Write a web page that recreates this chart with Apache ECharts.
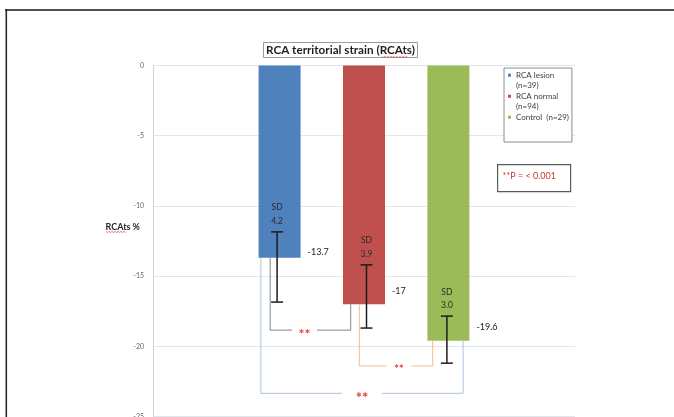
<!DOCTYPE html>
<html>
<head>
<meta charset="utf-8">
<script src="https://cdn.jsdelivr.net/npm/echarts@6/dist/echarts.min.js"></script>
<style>
html,body{margin:0;padding:0;background:#fff;}
#c{width:674px;height:417px;}
</style>
</head>
<body>
<div id="c"></div>
<script>
// ---- data ----
const categories = ['RCA lesion', 'RCA normal', 'Control'];
const groupN = [39, 94, 29];
const meanValues = [-13.7, -17, -19.6];
const sdText = ['4.2', '3.9', '3.0'];
const errLow = [-16.85, -18.7, -21.2];
const errHigh = [-11.85, -14.2, -17.85];
const bracketFrom = [0, 1, 0];
const bracketTo = [1, 2, 2];
const bracketLevel = [-18.85, -21.4, -23.35];
const yMin = -25, yMax = 0, yInterval = 5;
const yName = 'RCAts %';
const titleText = 'RCA territorial strain (RCAts)';
const pText = '**P = < 0.001';

// ---- styles ----
const FONT = 'Lato';
const colors = ['#4f81bd', '#c0504d', '#9bbb59'];
const ERR_DX = [-2.5, 2.5, -1.5];
const LABEL_DY = [-5.5, -13.3, -13.5];
const BR_COLORS = ['#858585', '#f4b98a', '#a9c4dc'];
const BR_DX = [[-9.4, -13.3], [-4.7, -15.7], [-18.7, 14.7]];
const BR_GAP = [25, 25, 40];
const BR_SHIFT = [-6, 3, 0];
const BR_STAR = [14, 11, 15];

const xCats = [''].concat(categories, ['']);
const chart = echarts.init(document.getElementById('c'), null, {renderer: 'canvas'});

const barSeries = categories.map((name, i) => ({
  name: name,
  type: 'bar',
  stack: 'all',
  barWidth: 42,
  itemStyle: {color: colors[i]},
  data: xCats.map((c, j) => (j === i + 1 ? meanValues[i] : '-')),
  z: 2
}));

const errData = categories.map((c, i) => [i + 1, errLow[i], errHigh[i], meanValues[i]]);
const brData = bracketFrom.map((f, k) => [f + 1, bracketTo[k] + 1, bracketLevel[k], meanValues[f], meanValues[bracketTo[k]]]);

const iconTwo = 'path://M0,3.75h3v3h-3z M0,0h0.01 M0,21h0.01';

function squiggle(x0, x1, y) {
  const pts = [];
  let up = true;
  for (let x = x0; x <= x1; x += 1.5) { pts.push([x, up ? y - 0.8 : y + 0.8]); up = !up; }
  return {type: 'polyline', shape: {points: pts}, style: {stroke: '#e05a5a', lineWidth: 0.8, fill: null}, z: 100};
}

const option = {
  animation: false,
  backgroundColor: '#ffffff',
  title: {
    text: titleText,
    left: 263, top: 42,
    padding: [2, 3, 2, 3],
    borderWidth: 1, borderColor: '#9a9a9a',
    textStyle: {fontFamily: FONT, fontWeight: 'bold', fontSize: 11.7, color: '#1f1f1f'}
  },
  legend: {
    orient: 'vertical',
    left: 504, top: 68,
    padding: [2, 3, 9, 4],
    itemWidth: 3, itemHeight: 21, itemGap: 0,
    borderWidth: 1, borderColor: '#8c8c8c',
    backgroundColor: '#fff',
    selectedMode: false,
    data: categories.map((c, i) => ({name: c, icon: iconTwo})),
    formatter: function (name) {
      const i = categories.indexOf(name);
      return i < 2 ? name + '\n(n=' + groupN[i] + ')' : name + '  (n=' + groupN[i] + ')\n';
    },
    textStyle: {fontFamily: FONT, fontSize: 8, lineHeight: 10.5, color: '#404040'}
  },
  grid: {left: 153, right: 99, top: 65.5, height: 351, outerBoundsMode: 'none', containLabel: false},
  xAxis: {
    type: 'category', data: xCats,
    axisLine: {show: false}, axisTick: {show: false}, axisLabel: {show: false},
    splitLine: {show: false}
  },
  yAxis: {
    type: 'value', min: yMin, max: yMax, interval: yInterval,
    axisLine: {show: true, lineStyle: {color: '#d4d4d4', width: 1}},
    axisTick: {show: false},
    axisLabel: {fontFamily: FONT, fontSize: 7, color: '#666', margin: 9},
    splitLine: {lineStyle: {color: '#e1e6ec', width: 1}}
  },
  series: barSeries.concat([
    {
      type: 'custom', name: 'brackets', z: 3,
      encode: {x: 0, y: 2},
      data: brData,
      renderItem: function (params, api) {
        const k = params.dataIndex;
        const xL = api.coord([api.value(0), 0])[0] + BR_DX[k][0];
        const xR = api.coord([api.value(1), 0])[0] + BR_DX[k][1];
        const yLev = api.coord([api.value(0), api.value(2)])[1];
        const yL = api.coord([api.value(0), api.value(3)])[1];
        const yR = api.coord([api.value(1), api.value(4)])[1];
        const gc = (xL + xR) / 2 + BR_SHIFT[k];
        const hg = BR_GAP[k] / 2;
        const st = {stroke: BR_COLORS[k], lineWidth: 1, fill: null};
        return {type: 'group', children: [
          {type: 'polyline', shape: {points: [[xL, yL], [xL, yLev], [gc - hg, yLev]]}, style: st},
          {type: 'polyline', shape: {points: [[gc + hg, yLev], [xR, yLev], [xR, yR]]}, style: st},
          {type: 'text', style: {text: '**', x: gc, y: yLev + BR_STAR[k] * 0.3, align: 'center', verticalAlign: 'middle',
            fontFamily: FONT, fontWeight: 'bold', fontSize: BR_STAR[k], fill: '#e0403a'}}
        ]};
      }
    },
    {
      type: 'custom', name: 'errors', z: 4,
      encode: {x: 0, y: 1},
      data: errData,
      renderItem: function (params, api) {
        const i = params.dataIndex;
        const cat = api.value(0);
        const xc0 = api.coord([cat, 0])[0];
        const xc = xc0 + ERR_DX[i];
        const yLo = api.coord([cat, api.value(1)])[1];
        const yHi = api.coord([cat, api.value(2)])[1];
        const yMean = api.coord([cat, api.value(3)])[1];
        const st = {stroke: '#1c1c1c', lineWidth: 1.5};
        return {type: 'group', children: [
          {type: 'line', shape: {x1: xc, y1: yHi, x2: xc, y2: yLo}, style: st},
          {type: 'line', shape: {x1: xc - 6, y1: yHi, x2: xc + 6, y2: yHi}, style: st},
          {type: 'line', shape: {x1: xc - 6, y1: yLo, x2: xc + 6, y2: yLo}, style: st},
          {type: 'text', style: {text: 'SD\n' + sdText[i], x: xc, y: yHi - 4, align: 'center', verticalAlign: 'bottom',
            fontFamily: FONT, fontSize: 8.5, lineHeight: 13.5, fill: '#2b2b2b'}},
          {type: 'text', style: {text: String(meanValues[i]), x: xc0 + 28, y: yMean + LABEL_DY[i], align: 'left', verticalAlign: 'middle',
            fontFamily: FONT, fontSize: 9, fill: '#222'}}
        ]};
      }
    }
  ]),
  graphic: [
    {type: 'line', shape: {x1: 5, y1: 10, x2: 674, y2: 10}, style: {stroke: '#505050', lineWidth: 2}, z: 100},
    {type: 'line', shape: {x1: 6.3, y1: 9, x2: 6.3, y2: 417}, style: {stroke: '#2a2a2a', lineWidth: 1.6}, z: 100},
    {type: 'text', style: {text: yName, x: 140, y: 227, align: 'right', verticalAlign: 'middle',
      fontFamily: FONT, fontWeight: 'bold', fontSize: 9, fill: '#262626'}, z: 100},
    squiggle(106, 126, 232),
    squiggle(382, 408, 57),
    {type: 'group', left: 497, top: 164, children: [
      {type: 'rect', shape: {x: 0, y: 0, width: 73, height: 27}, style: {fill: '#fff', stroke: '#5a5a5a', lineWidth: 1.2}},
      {type: 'text', style: {text: pText, x: 5, y: 11, verticalAlign: 'middle', fontFamily: FONT, fontSize: 9, fill: '#c8352e'}}
    ]}
  ]
};
chart.setOption(option);
</script>
</body>
</html>
